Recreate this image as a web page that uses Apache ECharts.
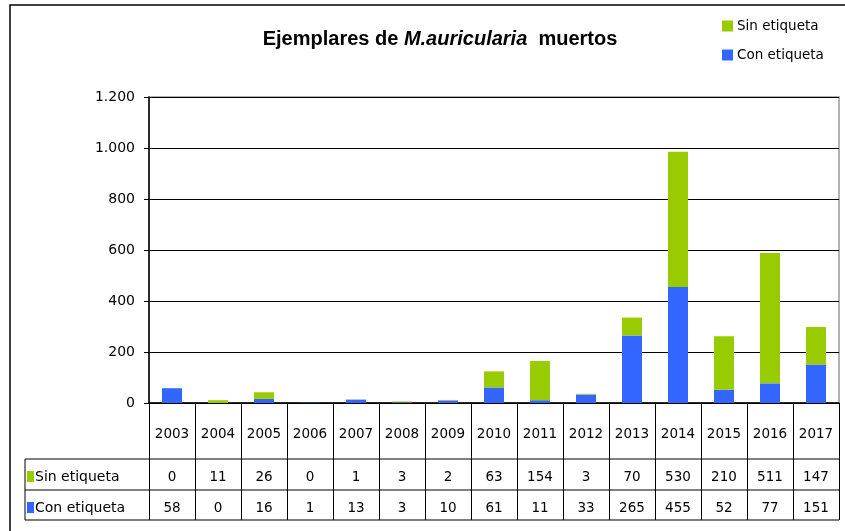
<!DOCTYPE html>
<html>
<head>
<meta charset="utf-8">
<script src="https://cdn.jsdelivr.net/npm/echarts@6/dist/echarts.min.js"></script>
<style>
  html, body { margin: 0; padding: 0; background: #fff; }
  #chart { width: 845px; height: 531px; }
</style>
</head>
<body>
<div id="chart"></div>
<script>
const years = ['2003', '2004', '2005', '2006', '2007', '2008', '2009', '2010', '2011', '2012', '2013', '2014', '2015', '2016', '2017']
const sinEtiqueta = [0, 11, 26, 0, 1, 3, 2, 63, 154, 3, 70, 530, 210, 511, 147]
const conEtiqueta = [58, 0, 16, 1, 13, 3, 10, 61, 11, 33, 265, 455, 52, 77, 151]
const yTicks = [0, 200, 400, 600, 800, 1000, 1200]

const GREEN = '#99CC00'
const BLUE = '#3366FF'
const FONT = '"Liberation Sans", Arial, sans-serif'
const TFONT = '"DejaVu Sans", sans-serif'

const chart = echarts.init(document.getElementById('chart'))

// separador de miles con punto (1.200)
const fmtMiles = v => String(v).replace(/\B(?=(\d{3})+(?!\d))/g, '.')

const rowAxis = (values, margin) => ({
  type: 'category',
  data: years,
  gridIndex: 0,
  position: 'bottom',
  axisLine: { show: false },
  axisTick: { show: false },
  axisLabel: {
    margin: margin,
    verticalAlign: 'middle',
    interval: 0,
    color: '#000',
    fontFamily: TFONT,
    fontSize: 13.5,
    formatter: (v, i) => String(values[i])
  }
})

let option = {
  animation: false,
  backgroundColor: '#fff',
  textStyle: { fontFamily: FONT },
  title: {
    text: 'Ejemplares de {i|M.auricularia}  muertos',
    left: 435,
    top: 24,
    textAlign: 'center',
    textStyle: {
      fontFamily: FONT,
      fontSize: 20,
      fontWeight: 'bold',
      color: '#000',
      rich: {
        i: { fontFamily: FONT, fontSize: 20, fontWeight: 'bold', fontStyle: 'italic', color: '#000' }
      }
    }
  },
  legend: {
    orient: 'vertical',
    left: 717,
    top: 14,
    itemWidth: 11,
    itemHeight: 11,
    itemGap: 15,
    icon: 'rect',
    data: ['Sin etiqueta', 'Con etiqueta'],
    textStyle: { fontFamily: TFONT, fontSize: 13.5, color: '#000', padding: [0, 0, 0, -1] }
  },
  grid: {
    left: 149,
    top: 97,
    right: 6,
    bottom: 128,
    show: true,
    borderColor: '#999',
    borderWidth: 1.5
  },
  xAxis: [
    {
      type: 'category',
      data: years,
      axisLine: { lineStyle: { color: '#000', width: 1.5 } },
      axisTick: { show: true, length: 117, lineStyle: { color: '#000', width: 1 } },
      axisLabel: {
        margin: 31,
        verticalAlign: 'middle',
        interval: 0,
        color: '#000',
        fontFamily: TFONT,
        fontSize: 13.5
      }
    },
    rowAxis(sinEtiqueta, 74),
    rowAxis(conEtiqueta, 105)
  ],
  yAxis: {
    type: 'value',
    min: 0,
    max: 1200,
    interval: 200,
    axisLine: { show: true, lineStyle: { color: '#000', width: 1.5 } },
    axisTick: { show: true, length: 5, lineStyle: { color: '#000' } },
    axisLabel: {
      margin: 14,
      color: '#000',
      fontFamily: TFONT,
      fontSize: 14,
      formatter: v => yTicks.includes(v) ? fmtMiles(v) : ''
    },
    splitLine: { lineStyle: { color: '#000', width: 1.2 } }
  },
  series: [
    {
      name: 'Con etiqueta',
      type: 'bar',
      stack: 'total',
      barWidth: 20,
      itemStyle: { color: BLUE },
      data: conEtiqueta
    },
    {
      name: 'Sin etiqueta',
      type: 'bar',
      stack: 'total',
      barWidth: 20,
      itemStyle: { color: GREEN },
      data: sinEtiqueta
    }
  ],
  graphic: [
    // marco exterior
    { type: 'rect', shape: { x: 10, y: 5, width: 845, height: 535 }, style: { fill: 'none', stroke: '#000', lineWidth: 1.5 }, silent: true },
    // líneas de la tabla
    { type: 'line', shape: { x1: 25, y1: 459, x2: 839, y2: 459 }, style: { stroke: '#000', lineWidth: 1 } },
    { type: 'line', shape: { x1: 25, y1: 490, x2: 839, y2: 490 }, style: { stroke: '#000', lineWidth: 1 } },
    { type: 'line', shape: { x1: 25, y1: 520, x2: 839, y2: 520 }, style: { stroke: '#000', lineWidth: 1.2 } },
    { type: 'line', shape: { x1: 25, y1: 459, x2: 25, y2: 520 }, style: { stroke: '#000', lineWidth: 1 } },
    // claves de las filas
    { type: 'rect', shape: { x: 27, y: 471, width: 7, height: 11 }, style: { fill: GREEN } },
    { type: 'text', x: 35, y: 477, style: { text: 'Sin etiqueta', fill: '#000', font: '14px ' + TFONT, textVerticalAlign: 'middle' } },
    { type: 'rect', shape: { x: 27, y: 502, width: 7, height: 11 }, style: { fill: BLUE } },
    { type: 'text', x: 35, y: 508, style: { text: 'Con etiqueta', fill: '#000', font: '14px ' + TFONT, textVerticalAlign: 'middle' } }
  ]
}

chart.setOption(option)
</script>
</body>
</html>
